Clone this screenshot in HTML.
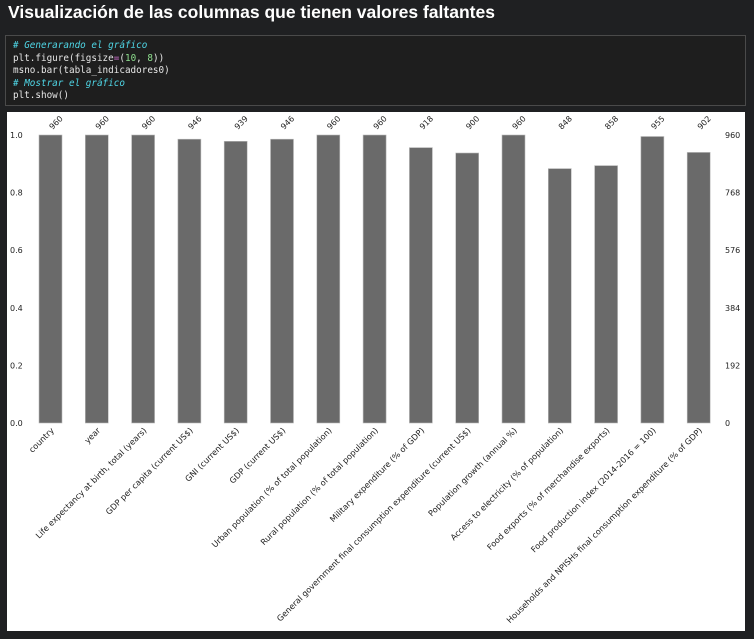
<!DOCTYPE html>
<html><head><meta charset="utf-8"><style>
body{margin:0;width:754px;height:639px;background:#1f2022;overflow:hidden;font-family:"Liberation Sans",sans-serif;position:relative}
#title{position:absolute;left:8px;top:2px;color:#fff;font-weight:bold;font-size:17.5px}
#code{position:absolute;left:5px;top:35px;width:741px;height:71px;background:#1e1e1e;border:1px solid #4a4a4a;box-sizing:border-box;font-family:"DejaVu Sans Mono",monospace;font-size:9.3px;line-height:12.6px;padding:4px 0 0 7px;color:#e6e6e6;white-space:pre}
.c{color:#4fd6e6;font-style:italic}.n{color:#8fe08f}.o{color:#d070d0}
svg{position:absolute;left:0;top:0;font-family:"DejaVu Sans",sans-serif}
</style></head><body>
<div id="title">Visualización de las columnas que tienen valores faltantes</div>
<div id="code"><span class="c"># Generarando el gráfico</span>
plt.figure(figsize<span class="o">=</span>(<span class="n">10</span>, <span class="n">8</span>))
msno.bar(tabla_indicadores0)
<span class="c"># Mostrar el gráfico</span>
plt.show()</div>
<svg id="chart" width="754" height="639"></svg>
<script>
const categories=["country","year","Life expectancy at birth, total (years)","GDP per capita (current US$)","GNI (current US$)","GDP (current US$)","Urban population (% of total population)","Rural population (% of total population)","Military expenditure (% of GDP)","General government final consumption expenditure (current US$)","Population growth (annual %)","Access to electricity (% of population)","Food exports (% of merchandise exports)","Food production index (2014-2016 = 100)","Households and NPISHs final consumption expenditure (% of GDP)"];
const counts=[960,960,960,946,939,946,960,960,918,900,960,848,858,955,902];
const leftTicks=["0.0","0.2","0.4","0.6","0.8","1.0"];
const rightTicks=["0","192","384","576","768","960"];
const total=960;
const NS="http://www.w3.org/2000/svg";
const svg=document.getElementById('chart');
function mk(t,a){const e=document.createElementNS(NS,t);for(const k in a)e.setAttribute(k,a[k]);svg.appendChild(e);return e;}
const y0=423,y1=135,x0=50.5,step=46.3,bw=23;
const yS=v=>y0-(v/total)*(y0-y1);
const xS=i=>x0+i*step;
const bg=mk('rect',{x:7,y:112,width:738,height:519,fill:'#fff'});


leftTicks.forEach((t,i)=>{
 const y=y0-i*(y0-y1)/5;
 const e=mk('text',{x:10,y:y+3,'font-size':8,fill:'#222'});e.textContent=t;
 
 
 const r=mk('text',{x:725,y:y+3,'font-size':8,fill:'#222'});r.textContent=rightTicks[i];
 
 
});
categories.forEach((c,i)=>{
 const cx=xS(i),top=yS(counts[i]);
 const b=mk('rect',{x:cx-bw/2,y:top,width:bw,height:y0-top,fill:'#6a6a6a',stroke:'#bbb','stroke-width':0.6});
 
 
 const v=mk('text',{x:cx+2,y:130,'font-size':8,fill:'#222',transform:`rotate(-45 ${cx+2} 130)`});v.textContent=counts[i];
 
 
 const l=mk('text',{x:cx+4,y:431,'font-size':8.2,fill:'#222','text-anchor':'end',transform:`rotate(-45 ${cx+4} 431)`});l.textContent=c;
 
 
});
</script>
</body></html>
